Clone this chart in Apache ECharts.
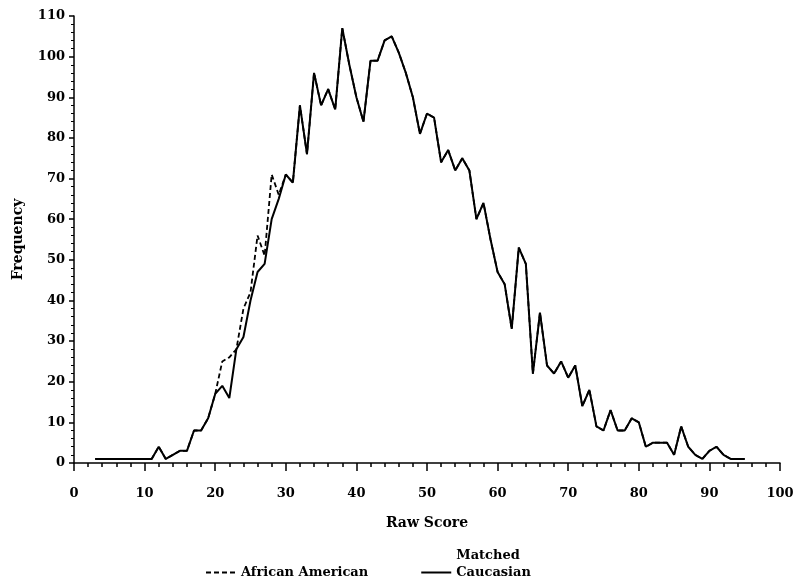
<!DOCTYPE html>
<html>
<head>
<meta charset="utf-8">
<script src="https://cdn.jsdelivr.net/npm/echarts@6/dist/echarts.min.js"></script>
<style>
	html, body { margin: 0; padding: 0; background: #fff; }
	#chart { width: 794px; height: 583px; }
</style>
</head>
<body>
<div id="chart"></div>
<script>
// raw scores 3..95
const scores = [
	3, 4, 5, 6, 7, 8, 9, 10, 11,
	12, 13, 14, 15, 16, 17, 18, 19, 20, 21,
	22, 23, 24, 25, 26, 27, 28, 29, 30, 31,
	32, 33, 34, 35, 36, 37, 38, 39, 40, 41,
	42, 43, 44, 45, 46, 47, 48, 49, 50, 51,
	52, 53, 54, 55, 56, 57, 58, 59, 60, 61,
	62, 63, 64, 65, 66, 67, 68, 69, 70, 71,
	72, 73, 74, 75, 76, 77, 78, 79, 80, 81,
	82, 83, 84, 85, 86, 87, 88, 89, 90, 91,
	92, 93, 94, 95
];

const africanAmerican = [
	1, 1, 1, 1, 1, 1, 1, 1, 1,
	4, 1, 2, 3, 3, 8, 8, 11, 17, 25,
	26, 28, 38, 42, 56, 51, 71, 66, 71, 69,
	88, 76, 96, 88, 92, 87, 107, 98, 90, 84,
	99, 99, 104, 105, 101, 96, 90, 81, 86, 85,
	74, 77, 72, 75, 72, 60, 64, 55, 47, 44,
	33, 53, 49, 22, 37, 24, 22, 25, 21, 24,
	14, 18, 9, 8, 13, 8, 8, 11, 10, 4,
	5, 5, 5, 2, 9, 4, 2, 1, 3, 4,
	2, 1, 1, 1
];

const caucasian = [
	1, 1, 1, 1, 1, 1, 1, 1, 1,
	4, 1, 2, 3, 3, 8, 8, 11, 17, 19,
	16, 28, 31, 40, 47, 49, 60, 65, 71, 69,
	88, 76, 96, 88, 92, 87, 107, 98, 90, 84,
	99, 99, 104, 105, 101, 96, 90, 81, 86, 85,
	74, 77, 72, 75, 72, 60, 64, 55, 47, 44,
	33, 53, 49, 22, 37, 24, 22, 25, 21, 24,
	14, 18, 9, 8, 13, 8, 8, 11, 10, 4,
	5, 5, 5, 2, 9, 4, 2, 1, 3, 4,
	2, 1, 1, 1
];

const FONT = "DejaVu Serif";

const chart = echarts.init(document.getElementById("chart"), null, { renderer: "canvas" });

const axisText = { fontFamily: FONT, fontWeight: "bold", fontSize: 13, color: "#000" };

const option = {
	animation: false,
	backgroundColor: "#fff",
	grid: {
		left: 74,
		right: 14,
		top: 16,
		bottom: 120,
		containLabel: false,
		outerBoundsMode: "none"
	},
	legend: {
		left: 205,
		top: 547,
		padding: 0,
		itemWidth: 30,
		itemHeight: 10,
		itemGap: 52,
		textStyle: {
			fontFamily: FONT,
			fontWeight: "bold",
			fontSize: 13,
			lineHeight: 17,
			color: "#000"
		},
		itemStyle: { opacity: 0 },
		// three lines so that the last text line sits level with the line sample
		formatter: name => name === "Matched Caucasian" ? "Matched\nCaucasian\n " : " \n" + name + "\n ",
		data: ["African American", "Matched Caucasian"]
	},
	xAxis: {
		type: "value",
		min: 0,
		max: 100,
		interval: 10,
		offset: 5,
		name: "Raw Score",
		nameLocation: "middle",
		nameGap: 48,
		nameTextStyle: { fontFamily: FONT, fontWeight: "bold", fontSize: 14, color: "#000" },
		axisLine: { lineStyle: { color: "#000", width: 1.5 } },
		axisTick: { length: 8, lineStyle: { color: "#000", width: 1.5 } },
		minorTick: { show: true, splitNumber: 5, length: 4, lineStyle: { color: "#000", width: 1.5 } },
		axisLabel: Object.assign({ margin: 19 }, axisText),
		splitLine: { show: false }
	},
	yAxis: {
		type: "value",
		min: 0,
		max: 110,
		interval: 10,
		offset: 3,
		name: "Frequency",
		nameLocation: "middle",
		nameGap: 46,
		nameRotate: 90,
		nameTextStyle: { fontFamily: FONT, fontWeight: "bold", fontSize: 14, color: "#000" },
		axisLine: { show: true, lineStyle: { color: "#000", width: 1.5 } },
		axisTick: { show: true, length: 5, lineStyle: { color: "#000", width: 1.5 } },
		minorTick: { show: true, splitNumber: 5, length: 3, lineStyle: { color: "#000", width: 1 } },
		axisLabel: Object.assign({ margin: 6 }, axisText),
		splitLine: { show: false }
	},
	series: [
		{
			name: "African American",
			type: "line",
			symbol: "none",
			data: scores.map((s, i) => [s, africanAmerican[i]]),
			lineStyle: { color: "#000", width: 1.8, type: [5, 3] },
			itemStyle: { color: "#000" }
		},
		{
			name: "Matched Caucasian",
			type: "line",
			symbol: "none",
			data: scores.map((s, i) => [s, caucasian[i]]),
			lineStyle: { color: "#000", width: 2 },
			itemStyle: { color: "#000" }
		}
	]
};

chart.setOption(option);
window.onresize = chart.resize;
</script>
</body>
</html>
